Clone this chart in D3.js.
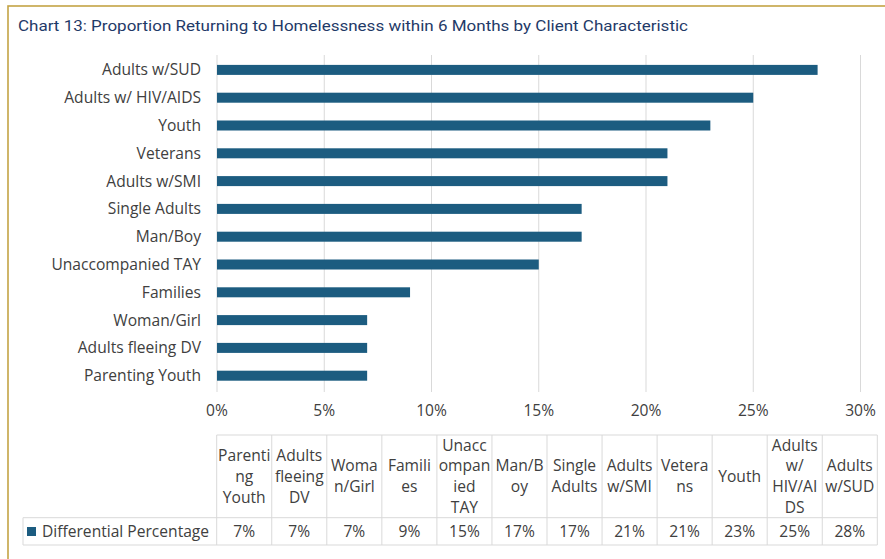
<!DOCTYPE html>
<html>
<head>
<meta charset="utf-8">
<script src="https://cdn.jsdelivr.net/npm/d3@7"></script>
<style>
  html, body { margin: 0; padding: 0; background: #fff; }
  svg { display: block; }
</style>
</head>
<body>
<svg id="chart" width="885" height="559"></svg>
<script>
// ---- Data ----
const titleText = "Chart 13: Proportion Returning to Homelessness within 6 Months by Client Characteristic";
const categories = ["Adults w/SUD", "Adults w/ HIV/AIDS", "Youth", "Veterans", "Adults w/SMI",
  "Single Adults", "Man/Boy", "Unaccompanied TAY", "Families", "Woman/Girl",
  "Adults fleeing DV", "Parenting Youth"];
const values = [28, 25, 23, 21, 21, 17, 17, 15, 9, 7, 7, 7];
const xTicks = [0, 5, 10, 15, 20, 25, 30];
const seriesName = "Differential Percentage";
// table header labels as wrapped in the reference (bottom-to-top category order)
const tableHeaders = [
  ["Parenti", "ng", "Youth"],
  ["Adults", "fleeing", "DV"],
  ["Woma", "n/Girl"],
  ["Famili", "es"],
  ["Unacc", "ompan", "ied", "TAY"],
  ["Man/B", "oy"],
  ["Single", "Adults"],
  ["Adults", "w/SMI"],
  ["Vetera", "ns"],
  ["Youth"],
  ["Adults", "w/", "HIV/AI", "DS"],
  ["Adults", "w/SUD"]
];
const tableValues = [7, 7, 7, 9, 15, 17, 17, 21, 21, 23, 25, 28];

// ---- Style ----
const barColor = "#1c5c80";
const textColor = "#404040";
const gridColor = "#d9d9d9";
const font = "'Open Sans', sans-serif";
const fs = 15.6;

const svg = d3.select("#chart");

// frame (gold border)
svg.append("rect").attr("x", 8).attr("y", 6).attr("width", 900).attr("height", 600)
  .attr("fill", "none").attr("stroke", "#c4a445").attr("stroke-width", 1.6);

// title
svg.append("text").attr("x", 18).attr("y", 31)
  .attr("font-family", "Roboto, sans-serif").attr("font-size", 15.5)
  .attr("fill", "#1f3a68")
  .attr("textLength", 670).attr("lengthAdjust", "spacingAndGlyphs")
  .text(titleText);

// scales
const x = d3.scaleLinear().domain([0, 30]).range([217, 860.5]);
const y = d3.scaleBand().domain(categories).range([56, 389.6]).paddingInner(0.64).paddingOuter(0.32);

// gridlines
svg.append("g").selectAll("line").data(xTicks).join("line")
  .attr("x1", d => x(d)).attr("x2", d => x(d))
  .attr("y1", 55).attr("y2", 392)
  .attr("stroke", gridColor).attr("stroke-width", 1);

// bars
svg.append("g").selectAll("rect").data(categories).join("rect")
  .attr("x", x(0)).attr("y", d => y(d))
  .attr("width", (d, i) => x(values[i]) - x(0))
  .attr("height", y.bandwidth())
  .attr("fill", barColor);

// category labels
svg.append("g").selectAll("text").data(categories).join("text")
  .attr("x", 201).attr("y", d => y(d) + y.bandwidth() / 2)
  .attr("dy", "0.35em").attr("text-anchor", "end")
  .attr("font-family", font).attr("font-size", fs).attr("fill", textColor)
  .text(d => d);

// x axis tick labels
svg.append("g").selectAll("text").data(xTicks).join("text")
  .attr("x", d => x(d)).attr("y", 411).attr("dy", "0.35em")
  .attr("text-anchor", "middle")
  .attr("font-family", font).attr("font-size", fs).attr("fill", textColor)
  .text(d => d + "%");

// data table
const colX = d3.scaleBand().domain(d3.range(tableValues.length)).range([216.7, 877.3]);
const tTop = 435, tMid = 517.7, tBot = 545, tLeft = 23;
const tg = svg.append("g").attr("stroke", gridColor).attr("stroke-width", 1).attr("fill", "none");
tg.append("line").attr("x1", colX.range()[0]).attr("x2", colX.range()[1]).attr("y1", tTop).attr("y2", tTop);
tg.append("line").attr("x1", tLeft).attr("x2", colX.range()[1]).attr("y1", tMid).attr("y2", tMid);
tg.append("line").attr("x1", tLeft).attr("x2", colX.range()[1]).attr("y1", tBot).attr("y2", tBot);
tg.append("line").attr("x1", tLeft).attr("x2", tLeft).attr("y1", tMid).attr("y2", tBot);
tg.selectAll("line.v").data(d3.range(tableValues.length + 1)).join("line").attr("class", "v")
  .attr("x1", i => colX.range()[0] + i * colX.step())
  .attr("x2", i => colX.range()[0] + i * colX.step())
  .attr("y1", tTop).attr("y2", tBot);

// header text
const lh = 20.8;
const hdr = svg.append("g").attr("font-family", font).attr("font-size", fs).attr("fill", textColor)
  .attr("text-anchor", "middle");
tableHeaders.forEach((lines, i) => {
  const cx = colX(i) + colX.bandwidth() / 2;
  const cy = (tTop + tMid) / 2;
  const start = cy - (lines.length - 1) * lh / 2;
  lines.forEach((ln, j) => {
    hdr.append("text").attr("x", cx).attr("y", start + j * lh).attr("dy", "0.35em").text(ln);
  });
});

// value row
svg.append("g").selectAll("text").data(tableValues).join("text")
  .attr("x", (d, i) => colX(i) + colX.bandwidth() / 2)
  .attr("y", (tMid + tBot) / 2).attr("dy", "0.35em")
  .attr("text-anchor", "middle")
  .attr("font-family", font).attr("font-size", fs).attr("fill", textColor)
  .text(d => d + "%");

// legend key + series name
svg.append("rect").attr("x", 27).attr("y", 527).attr("width", 9).attr("height", 9).attr("fill", barColor);
svg.append("text").attr("x", 42).attr("y", (tMid + tBot) / 2).attr("dy", "0.35em")
  .attr("font-family", font).attr("font-size", fs).attr("fill", textColor)
  .text(seriesName);
</script>
</body>
</html>
